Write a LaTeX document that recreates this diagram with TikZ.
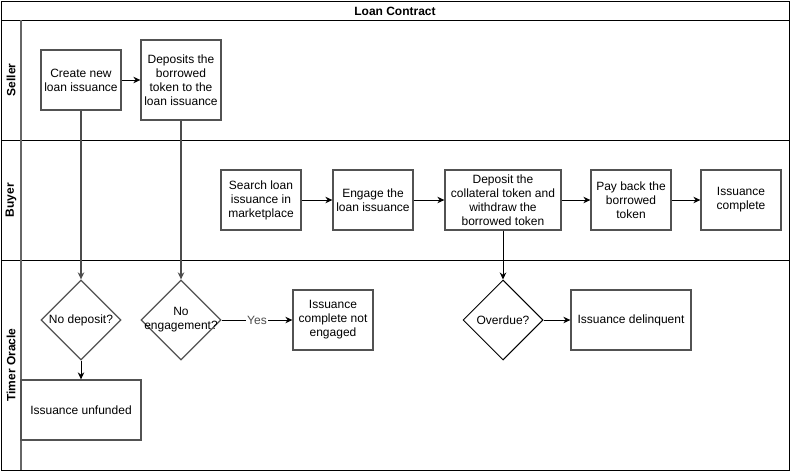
\documentclass[tikz,border=0pt]{standalone}
\usepackage{fontspec}
\setmainfont{Liberation Sans}
\usetikzlibrary{shapes.geometric,arrows.meta}
\begin{document}
\begin{tikzpicture}[x=1pt,y=-1pt,
  every node/.style={font=\fontsize{12}{14}\selectfont},
  stepbox/.style={draw=black!68,line width=1.3pt,rectangle,inner sep=0pt,align=center,minimum width=80pt,minimum height=60pt},
  decision/.style={draw=black!68,line width=1.3pt,diamond,inner sep=0pt,minimum width=80pt,minimum height=80pt},
  flow/.style={draw=black,line width=1pt,-{Stealth[length=7pt,width=6.5pt]}},
  lane/.style={draw=black,line width=1pt},
  lanelabel/.style={rotate=90,font=\fontsize{12}{14}\selectfont\bfseries}
]
\useasboundingbox (0,0) rectangle (791,471);
% frame and lanes
\draw[lane] (1,1) rectangle (789,470);
\draw[lane] (1,20) -- (789,20);
\draw[lane] (1,140) -- (789,140);
\draw[lane] (1,260) -- (789,260);
\draw[draw=black!60,line width=1.4pt] (21,20) -- (21,470);
\node[font=\fontsize{12}{14}\selectfont\bfseries] (title) at (395,11) {Loan Contract};
\node[lanelabel] (lseller) at (11,80) {Seller};
\node[lanelabel] (lbuyer) at (11,200) {Buyer};
\node[lanelabel] (ltimer) at (11,365) {Timer Oracle};
% seller
\node[stepbox] (create) at (81,80) {Create new\\loan issuance};
\node[stepbox,minimum height=80pt] (depo) at (181,80) {Deposits the\\borrowed\\token to the\\loan issuance};
% buyer
\node[stepbox] (search) at (261,200) {Search loan\\issuance in\\marketplace};
\node[stepbox] (engage) at (373,200) {Engage the\\loan issuance};
\node[stepbox,minimum width=116pt] (coll) at (503,200) {Deposit the\\collateral token and\\withdraw the\\borrowed token};
\node[stepbox] (payback) at (631,200) {Pay back the\\borrowed\\token};
\node[stepbox] (complete) at (741,200) {Issuance\\complete};
% timer oracle
\node[decision,label={[align=center]center:No deposit?}] (nodep) at (81,320) {};
\node[decision,label={[align=center]center:No\\engagement?}] (noeng) at (181,320) {};
\node[stepbox] (notengaged) at (333,320) {Issuance\\complete not\\engaged};
\node[stepbox,minimum width=120pt] (unfunded) at (81,410) {Issuance unfunded};
\node[decision,draw=black,line width=1pt,label={[align=center]center:Overdue?}] (overdue) at (503,320) {};
\node[stepbox,minimum width=120pt] (delinq) at (631,320) {Issuance delinquent};
% connectors
\draw[flow] (create) -- (depo);
\draw[flow,draw=black!70,line width=1.3pt] (create.south) -- (nodep.north);
\draw[flow,draw=black!70,line width=1.3pt] (depo.south) -- (noeng.north);
\draw[flow] (nodep.south) -- (unfunded.north);
\draw[flow] (noeng.east) -- node[fill=white,inner sep=1pt,text=black!70] (yes) {Yes} (notengaged.west);
\draw[flow] (search) -- (engage);
\draw[flow] (engage) -- (coll);
\draw[flow] (coll) -- (payback);
\draw[flow] (payback) -- (complete);
\draw[flow] (coll.south) -- (overdue.north);
\draw[flow] (overdue.east) -- (delinq.west);
\end{tikzpicture}
\end{document}
